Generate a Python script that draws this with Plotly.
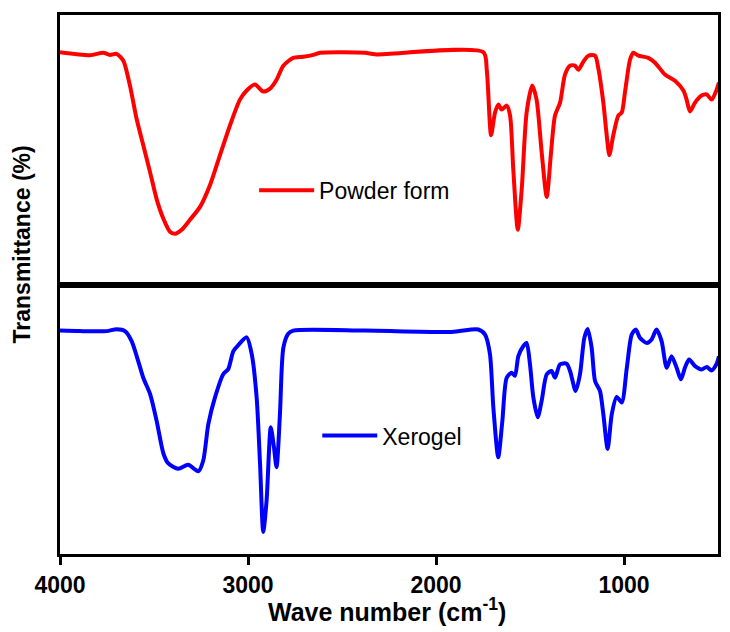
import plotly.graph_objects as go

# ---- Data ----
powder_wn = [4000, 3840, 3770, 3734, 3699, 3663, 3628, 3592, 3557, 3521, 3486, 3450, 3415, 3388,
             3353, 3309, 3255, 3202, 3149, 3096, 3043, 3007, 2963, 2919, 2883, 2848, 2812, 2759,
             2706, 2653, 2617, 2378, 2324, 1748, 1730, 1707, 1686, 1668, 1651, 1624, 1606, 1589,
             1565, 1544, 1518, 1488, 1465, 1438, 1411, 1388, 1367, 1340, 1314, 1287, 1261, 1243,
             1216, 1190, 1154, 1137, 1110, 1092, 1078, 1057, 1030, 1012, 995, 968, 950, 924, 871,
             835, 782, 729, 684, 667, 649, 622, 587, 560, 534, 507, 495]
powder_t = [86.2, 85.1, 86.0, 85.2, 85.6, 83.0, 73.8, 61.3, 51.7, 41.7, 31.7, 24.4, 19.6, 18.8,
            20.3, 24.0, 28.8, 36.9, 48.0, 59.0, 68.6, 72.0, 74.2, 71.6, 72.7, 76.0, 81.2, 84.1,
            84.5, 85.2, 86.0, 86.0, 85.4, 86.2, 79.7, 55.4, 63.8, 66.8, 64.9, 66.4, 62.7, 42.8,
            20.3, 35.4, 63.8, 73.8, 68.6, 49.1, 32.5, 49.1, 62.7, 67.5, 77.9, 81.2, 81.2, 79.7,
            82.7, 84.9, 84.9, 80.4, 67.5, 55.4, 48.0, 55.4, 62.7, 63.8, 71.2, 83.4, 86.0, 84.9, 84.1,
            82.3, 77.9, 75.6, 72.0, 68.6, 64.2, 67.5, 70.1, 70.5, 68.6, 72.3, 74.9]

xerogel_wn = [4000, 3894, 3752, 3699, 3654, 3619, 3584, 3557, 3521, 3486, 3450, 3424, 3371, 3318,
              3264, 3238, 3211, 3176, 3131, 3105, 3078, 3052, 3007, 2980, 2954, 2936, 2919, 2901,
              2879, 2862, 2848, 2830, 2812, 2786, 2759, 2378, 1917, 1775, 1739, 1713, 1695, 1669,
              1647, 1624, 1597, 1580, 1562, 1536, 1518, 1500, 1482, 1459, 1438, 1411, 1385, 1367,
              1340, 1305, 1287, 1257, 1234, 1211, 1193, 1172, 1154, 1128, 1110, 1087, 1065, 1039,
              1012, 985, 959, 937, 915, 879, 853, 827, 800, 773, 747, 720, 697, 676, 654, 622, 587,
              560, 534, 507, 495]
xerogel_t = [82.9, 82.7, 82.7, 83.4, 82.7, 79.0, 71.6, 65.4, 59.4, 49.4, 37.3, 33.6, 31.6, 33.1,
             30.7, 34.7, 48.2, 58.0, 66.8, 68.6, 75.3, 77.5, 80.4, 74.1, 58.0, 33.6, 8.2, 19.9,
             47.0, 39.6, 32.2, 52.0, 76.5, 81.7, 82.9, 82.9, 82.4, 83.3, 81.4, 74.1, 54.4, 35.9,
             49.4, 65.4, 67.3, 66.1, 73.4, 77.1, 78.3, 70.3, 58.0, 50.7, 56.8, 66.7, 67.9, 65.4,
             70.4, 70.6, 67.9, 60.5, 66.7, 80.2, 83.5, 76.5, 64.2, 60.5, 51.9, 39.0, 51.9, 58.3,
             56.2, 69.1, 81.4, 83.3, 80.2, 78.3, 79.6, 83.3, 79.0, 69.1, 73.4, 69.1, 64.8, 69.1, 72.2,
             69.7, 68.5, 69.4, 68.1, 70.6, 73.4]

x_ticks = [4000, 3000, 2000, 1000]
x_tick_labels = ["4000", "3000", "2000", "1000"]

FONT = "Arial, Liberation Sans, sans-serif"

fig = go.Figure()
fig.add_trace(go.Scatter(x=powder_wn, y=powder_t, mode="lines", name="Powder form",
                         line=dict(color="#ff0000", width=4, shape="spline", smoothing=0.7),
                         xaxis="x2", yaxis="y2", legend="legend"))
fig.add_trace(go.Scatter(x=xerogel_wn, y=xerogel_t, mode="lines", name="Xerogel",
                         line=dict(color="#0000ff", width=4, shape="spline", smoothing=0.7),
                         xaxis="x", yaxis="y", legend="legend2"))

axis_common = dict(showline=True, linecolor="black", linewidth=3, mirror=True,
                   showgrid=False, zeroline=False)

# page body has an 8px default margin, so the figure is offset by 8px
fig.update_layout(
    width=722, height=624,
    margin=dict(l=52, r=12, t=4, b=78),
    plot_bgcolor="white", paper_bgcolor="white",
    xaxis=dict(range=[4000, 500], tickvals=x_ticks, ticktext=x_tick_labels,
               ticks="outside", ticklen=8, tickwidth=3, tickcolor="black",
               tickfont=dict(family=FONT, size=23, color="black", weight="bold"),
               domain=[0, 1], anchor="y", **axis_common),
    yaxis=dict(range=[0, 100], showticklabels=False, ticks="", domain=[0, 0.5],
               anchor="x", **axis_common),
    xaxis2=dict(range=[4000, 500], showticklabels=False, ticks="", matches="x",
                anchor="y2", **axis_common),
    yaxis2=dict(range=[0, 100], showticklabels=False, ticks="", domain=[0.5, 1],
                anchor="x2", **axis_common),
    legend=dict(x=0.295, y=0.675, xanchor="left", yanchor="middle", bgcolor="rgba(0,0,0,0)",
                font=dict(family=FONT, size=23, color="black"), itemwidth=55),
    legend2=dict(x=0.391, y=0.2196, xanchor="left", yanchor="middle", bgcolor="rgba(0,0,0,0)",
                 font=dict(family=FONT, size=23, color="black"), itemwidth=55),
    showlegend=True,
    annotations=[
        dict(text="Wave number (cm<sup>-1</sup>)", xref="paper", yref="paper", x=0.497, y=-0.103,
             xanchor="center", yanchor="middle", showarrow=False,
             font=dict(family=FONT, size=25, color="black", weight="bold")),
        dict(text="Transmittance (%)", xref="paper", yref="paper", x=-0.058, y=0.574,
             xanchor="center", yanchor="middle", textangle=-90, showarrow=False,
             font=dict(family=FONT, size=23, color="black", weight="bold")),
    ],
)

fig.write_html("out.html")
